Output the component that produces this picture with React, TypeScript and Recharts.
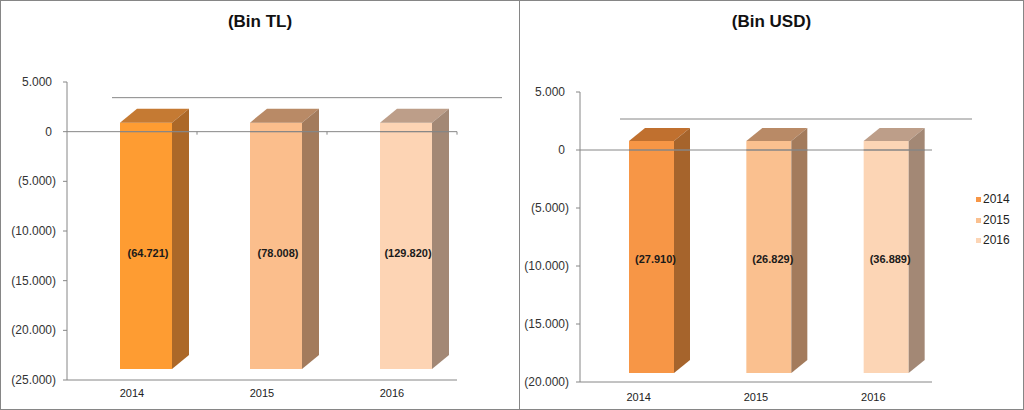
import React from 'react';
import { BarChart, Bar, XAxis, YAxis, ReferenceLine, Legend } from 'recharts';

const years = ['2014', '2015', '2016'];
const tlValues = [-64721, -78008, -129820];
const usdValues = [-27910, -26829, -36889];
const tlTicks = [5000, 0, -5000, -10000, -15000, -20000, -25000];
const usdTicks = [5000, 0, -5000, -10000, -15000, -20000];

const tlFront = ['#FE9C32', '#FBBE8C', '#FDD4B4'];
const tlTop = ['#C57A33', '#B98A66', '#BD9E89'];
const tlSide = ['#AC6828', '#A37B5C', '#A38875'];
const usdFront = ['#F79646', '#FAC08F', '#FCD5B5'];
const usdTop = ['#C0702F', '#B98A66', '#BD9E89'];
const usdSide = ['#A6642C', '#A37B5C', '#A38875'];

const tlData = years.map((year, i) => ({ year, value: tlValues[i] }));
const usdData = years.map((year, i) => ({ year, value: usdValues[i] }));

const FONT = '"Liberation Sans", Arial, sans-serif';
const GRID = '#868686';

const fmt = (v: number) => {
  const s = Math.abs(Math.round(v)).toString().replace(/\B(?=(\d{3})+(?!\d))/g, '.');
  return v < 0 ? `(${s})` : s;
};

type Cfg = {
  front: string[];
  top: string[];
  side: string[];
  shift: number;
  dx: number;
  dy: number;
  rise: number;
  gap: number;
  plotBottom: number;
  labelDx: number;
  labelDy: number;
};

const make3D = (cfg: Cfg) => (props: any) => {
  const { x, y, width, height, index, background, payload } = props;
  const a = y;
  const b = y + height;
  const zeroY = Math.min(a, b);
  const bottom = background && typeof background.y === 'number' ? background.y + background.height : cfg.plotBottom;
  const fx = x + cfg.shift;
  const w = width;
  const ft = zeroY - cfg.rise;
  const fb = bottom - cfg.gap;
  const { dx, dy } = cfg;
  return (
    <g>
      <rect x={fx} y={ft} width={w} height={fb - ft} fill={cfg.front[index]} />
      <path d={`M${fx},${ft} L${fx + dx},${ft - dy} L${fx + w + dx},${ft - dy} L${fx + w},${ft} Z`} fill={cfg.top[index]} />
      <path d={`M${fx + w},${ft} L${fx + w + dx},${ft - dy} L${fx + w + dx},${fb - dy} L${fx + w},${fb} Z`} fill={cfg.side[index]} />
      <line x1={fx} y1={zeroY} x2={fx + w + dx} y2={zeroY} stroke={GRID} strokeWidth={1} />
      <text
        x={fx + w / 2 + cfg.labelDx}
        y={(ft + fb) / 2 + cfg.labelDy}
        textAnchor="middle"
        dominantBaseline="central"
        fontFamily={FONT}
        fontSize={11}
        fontWeight="bold"
        fill="#1a1a1a"
      >
        {fmt(payload.value)}
      </text>
    </g>
  );
};

const YTick = (props: any) => {
  const { x, y, payload } = props;
  const v = payload.value as number;
  return (
    <text
      x={v < 0 ? x - 5 : x - 9}
      y={y}
      textAnchor="end"
      dominantBaseline="central"
      fontFamily={FONT}
      fontSize={12}
      fill="#333"
    >
      {fmt(v)}
    </text>
  );
};

const makeXTick = (off: number) => (props: any) => {
  const { x, y, payload } = props;
  return (
    <text x={x} y={y + off} textAnchor="middle" dominantBaseline="central" fontFamily={FONT} fontSize={11} fill="#222">
      {payload.value}
    </text>
  );
};

const makeZeroLine = (backRise: number, backShift: number, withTicks: boolean) => (props: any) => {
  const { x1, y1, x2 } = props;
  const n = years.length;
  const step = (x2 - x1) / n;
  const ticks = withTicks ? years.map((_, i) => x1 + step * (i + 1)) : [];
  return (
    <g>
      <line x1={x1} y1={y1} x2={x2} y2={y1} stroke={GRID} strokeWidth={1} />
      {ticks.map((tx, i) => (
        <line key={i} x1={tx} y1={y1} x2={tx} y2={y1 + 3} stroke={GRID} strokeWidth={1} />
      ))}
      <line x1={x1 + backShift} y1={y1 - backRise} x2={x2 + backShift} y2={y1 - backRise} stroke={GRID} strokeWidth={1} />
    </g>
  );
};

const LegendContent = () => (
  <div style={{ fontFamily: FONT, fontSize: 12, color: '#222' }}>
    {years.map((yr, i) => (
      <div key={yr} style={{ position: 'relative', height: 20.5, lineHeight: '20.5px' }}>
        <span
          style={{
            position: 'absolute',
            left: 0,
            top: 8,
            width: 5,
            height: 5,
            background: usdFront[i],
          }}
        />
        <span style={{ position: 'absolute', left: 7, top: 0 }}>{yr}</span>
      </div>
    ))}
  </div>
);

const panelStyle: React.CSSProperties = {
  position: 'absolute',
  top: 0,
  height: 410,
  boxSizing: 'border-box',
  border: `1px solid ${GRID}`,
  background: '#fff',
  overflow: 'hidden',
};

const titleStyle: React.CSSProperties = {
  position: 'absolute',
  top: 11,
  left: 0,
  width: '100%',
  textAlign: 'center',
  fontFamily: FONT,
  fontWeight: 'bold',
  fontSize: 17,
  lineHeight: '20px',
  color: '#111',
  zIndex: 2,
};

export default function App() {
  return (
    <div style={{ position: 'relative', width: 1024, height: 410, background: '#fff' }}>
      <style>{'body{margin:0;}'}</style>
      <div style={{ ...panelStyle, left: 0, width: 520 }}>
        <div style={titleStyle}>(Bin TL)</div>
        <div style={{ position: 'absolute', left: -1, top: -1 }}>
          <BarChart width={520} height={410} data={tlData} margin={{ top: 82, right: 63, bottom: 0, left: 0 }}>
            <XAxis
              dataKey="year"
              height={30}
              axisLine={{ stroke: GRID }}
              tickLine={false}
              tickSize={0}
              tickMargin={0}
              tick={makeXTick(13)}
              interval={0}
            />
            <YAxis
              domain={[-25000, 5000]}
              ticks={tlTicks}
              allowDataOverflow
              interval={0}
              width={67}
              tickSize={4}
              tickMargin={2}
              axisLine={{ stroke: GRID }}
              tickLine={{ stroke: GRID }}
              tick={YTick}
            />
            <ReferenceLine y={0} shape={makeZeroLine(34, 45, true)} />
            <Bar
              dataKey="value"
              barSize={52}
              isAnimationActive={false}
              shape={make3D({
                front: tlFront,
                top: tlTop,
                side: tlSide,
                shift: 14,
                dx: 17,
                dy: 14,
                rise: 9,
                gap: 11,
                plotBottom: 380,
                labelDx: 2,
                labelDy: 7,
              })}
            />
          </BarChart>
        </div>
      </div>
      <div style={{ ...panelStyle, left: 519, width: 505 }}>
        <div style={titleStyle}>(Bin USD)</div>
        <div style={{ position: 'absolute', left: -1, top: -1 }}>
          <BarChart width={505} height={410} data={usdData} margin={{ top: 92, right: 42, bottom: 0, left: 0 }}>
            <XAxis
              dataKey="year"
              height={28}
              axisLine={{ stroke: GRID }}
              tickLine={false}
              tickSize={0}
              tickMargin={0}
              tick={makeXTick(15)}
              interval={0}
            />
            <YAxis
              domain={[-20000, 5000]}
              ticks={usdTicks}
              allowDataOverflow
              interval={0}
              width={61}
              tickSize={4}
              tickMargin={2}
              axisLine={{ stroke: GRID }}
              tickLine={{ stroke: GRID }}
              tick={YTick}
            />
            <ReferenceLine y={0} shape={makeZeroLine(31, 40, false)} />
            <Bar
              dataKey="value"
              barSize={45}
              isAnimationActive={false}
              shape={make3D({
                front: usdFront,
                top: usdTop,
                side: usdSide,
                shift: 13,
                dx: 16,
                dy: 13,
                rise: 9,
                gap: 9,
                plotBottom: 382,
                labelDx: 4,
                labelDy: 2,
              })}
            />
            <Legend
              layout="horizontal"
              verticalAlign="middle"
              align="right"
              wrapperStyle={{ position: 'absolute', left: 457, top: 189, width: 50, height: 66 }}
              content={LegendContent}
            />
          </BarChart>
        </div>
      </div>
    </div>
  );
}
